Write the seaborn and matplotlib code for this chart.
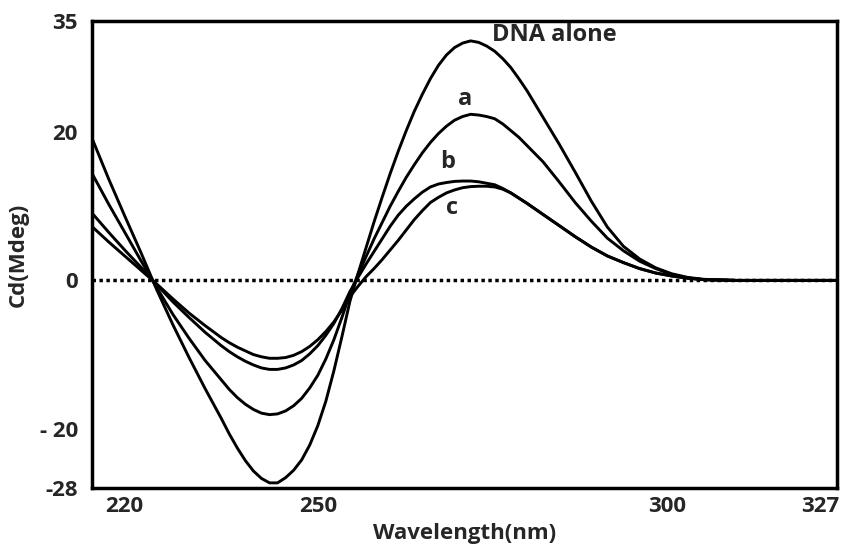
import pandas as pd
import matplotlib
matplotlib.use('Agg')
import matplotlib.pyplot as plt
import seaborn as sns

# wavelength grid (nm)
wavelength = [215, 217.5, 220, 222.5, 225, 227.5, 230, 232.5,
              235, 236.25, 237.5, 238.75, 240, 241.25, 242.5, 243.75,
              245, 246.25, 247.5, 248.75, 250, 251.25, 252.5, 253.75,
              255, 256.25, 257.5, 258.75, 260, 261.25, 262.5, 263.75,
              265, 266.25, 267.5, 268.75, 270, 271.25, 272.5, 273.75,
              275, 276.25, 277.5, 278.75, 280, 281.25, 282.5,
              285, 287.5, 290, 292.5, 295, 297.5, 300, 302.5, 305, 307.5,
              310, 315, 320, 330.7]

dna_alone = [19.0, 13.7, 8.7, 3.8, -1.3, -6.0, -10.4, -14.6,
             -18.6, -20.7, -22.6, -24.3, -25.7, -26.7, -27.3, -27.3,
             -26.6, -25.6, -24.2, -22.2, -19.6, -16.3, -12.2, -7.6,
             -2.8, 0.9, 4.4, 7.9, 11.2, 14.4, 17.4, 20.2,
             22.8, 25.1, 27.2, 29.0, 30.4, 31.4, 32.0, 32.3,
             32.1, 31.6, 30.9, 29.9, 28.7, 27.2, 25.6,
             22.0, 18.4, 14.6, 10.7, 7.2, 4.6, 2.9, 1.7, 0.9, 0.4,
             0.15, 0.0, 0.0, 0.0]

curve_a = [14.3, 10.3, 6.5, 2.7, -1.0, -4.6, -7.8, -10.8,
           -13.4, -14.7, -15.8, -16.7, -17.4, -17.9, -18.1, -18.0,
           -17.6, -16.9, -15.9, -14.5, -12.8, -10.6, -8.0, -5.0,
           -1.8, 0.8, 3.2, 5.6, 7.8, 10.0, 12.0, 13.9,
           15.6, 17.2, 18.6, 19.8, 20.8, 21.6, 22.1, 22.4,
           22.3, 22.1, 21.8, 21.1, 20.2, 19.3, 18.2,
           16.0, 13.3, 10.5, 8.0, 5.7, 4.0, 2.6, 1.6, 0.8, 0.35,
           0.1, 0.0, 0.0, 0.0]

curve_b = [9.0, 6.5, 4.1, 1.8, -0.6, -2.9, -5.0, -7.0,
           -8.8, -9.6, -10.3, -10.9, -11.4, -11.8, -12.0, -12.0,
           -11.8, -11.4, -10.8, -9.9, -8.8, -7.4, -5.8, -3.8,
           -1.5, 0.4, 2.2, 3.9, 5.6, 7.3, 8.8, 10.0,
           11.0, 11.9, 12.6, 13.0, 13.2, 13.35, 13.4, 13.4,
           13.3, 13.1, 12.9, 12.4, 11.8, 11.1, 10.4,
           8.9, 7.4, 5.9, 4.5, 3.3, 2.4, 1.6, 1.0, 0.6, 0.3,
           0.1, 0.0, 0.0, 0.0]

curve_c = [7.2, 5.2, 3.3, 1.4, -0.5, -2.5, -4.4, -6.1,
           -7.7, -8.4, -9.0, -9.5, -10.0, -10.3, -10.5, -10.5,
           -10.4, -10.1, -9.6, -8.9, -8.0, -6.9, -5.6, -4.0,
           -2.2, -0.8, 0.5, 1.6, 2.8, 4.1, 5.4, 6.8,
           8.2, 9.4, 10.5, 11.2, 11.8, 12.2, 12.5, 12.65,
           12.7, 12.7, 12.6, 12.3, 11.8, 11.1, 10.4,
           8.9, 7.4, 5.9, 4.5, 3.3, 2.4, 1.6, 1.0, 0.6, 0.3,
           0.1, 0.0, 0.0, 0.0]

x_tick_pos = [220, 250, 304.3, 328.1]
x_tick_labels = ['220', '250', '300', '327']
y_ticks = [35, 20, 0, -20, -28]
y_tick_labels = ['35', '20', '0', '- 20', '-28']

frames = []
for name, vals in [('DNA alone', dna_alone), ('a', curve_a), ('b', curve_b), ('c', curve_c)]:
    frames.append(pd.DataFrame({'Wavelength': wavelength, 'Cd': vals, 'sample': name}))
df = pd.concat(frames, ignore_index=True)

sns.set_style('white')
plt.rcParams['font.family'] = ['Open Sans', 'DejaVu Sans']
plt.rcParams['font.weight'] = 'bold'

fig = plt.figure(figsize=(8.43, 5.49), dpi=100)
ax = fig.add_axes([0.109, 0.111, 0.884, 0.851])

ax.axhline(0, color='black', linestyle=(0, (1, 1)), linewidth=2.5, zorder=1)
sns.lineplot(data=df, x='Wavelength', y='Cd', hue='sample',
             palette=['black'] * 4, linewidth=2.1, legend=False, ax=ax, zorder=2)
for ln in ax.get_lines():
    ln.set_solid_joinstyle('round')

ax.text(286.8, 33.1, 'DNA alone', fontsize=17, fontweight='bold', ha='center', va='center')
ax.text(272.9, 24.4, 'a', fontsize=17, fontweight='bold', ha='center', va='center')
ax.text(270.2, 16.0, 'b', fontsize=17, fontweight='bold', ha='center', va='center')
ax.text(270.9, 9.7, 'c', fontsize=17, fontweight='bold', ha='center', va='center')

ax.set_xlim(214.9, 330.7)
ax.set_ylim(-28, 35)
ax.set_xticks(x_tick_pos)
ax.set_xticklabels(x_tick_labels)
ax.set_yticks(y_ticks)
ax.set_yticklabels(y_tick_labels)
ax.tick_params(direction='in', length=5, width=2, labelsize=16)
ax.tick_params(axis='x', pad=6)
ax.tick_params(axis='y', pad=10)
for lab in ax.get_xticklabels() + ax.get_yticklabels():
    lab.set_fontweight('bold')

for sp in ax.spines.values():
    sp.set_linewidth(2.5)
    sp.set_color('black')

ax.set_xlabel('Wavelength(nm)', fontsize=16, fontweight='bold', labelpad=4)
ax.set_ylabel('Cd(Mdeg)', fontsize=16, fontweight='bold', labelpad=8)

fig.savefig('out.png', dpi=100)
